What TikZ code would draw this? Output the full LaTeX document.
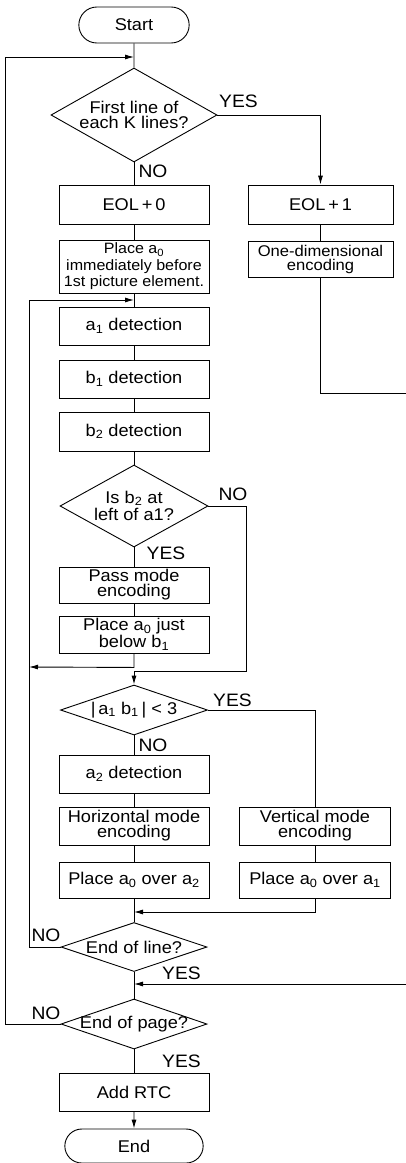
\documentclass[tikz,border=0pt]{standalone}
\usepackage{fontspec}
\setmainfont{Liberation Sans}[FakeStretch=1.07]
\usetikzlibrary{shapes.geometric,shapes.misc,arrows.meta}
\begin{document}
\begin{tikzpicture}[x=1pt,y=1pt,line width=0.9pt,>={Latex[length=9pt,width=5pt]},
  box/.style={draw, align=center, minimum width=150pt, minimum height=38pt, inner sep=1pt, font=\fontsize{17}{15}\selectfont},
  term/.style={draw, rounded rectangle, minimum height=36pt, font=\fontsize{17}{15}\selectfont},
  decision/.style={draw, diamond, align=center, inner sep=-3pt, font=\fontsize{17}{15}\selectfont},
  lbl/.style={inner sep=0pt, font=\fontsize{18}{18}\selectfont}]
\useasboundingbox (0,0) rectangle (406,-1163);
\node[term, minimum width=117pt] (start) at (134,-25) {Start};
\node[decision, minimum width=166pt, minimum height=94pt, aspect=1.77] (first) at (134,-115) {First line of\\each K lines?};
\node[box, minimum height=39pt] (eol0) at (134,-204.5) {EOL\,+\,0};
\node[box, minimum width=145pt, minimum height=39pt] (eol1) at (320.5,-204.5) {EOL\,+\,1};
\node[box, minimum height=53pt, font=\fontsize{15}{16.5}\selectfont] (place0) at (134,-266.5) {Place a\textsubscript{0}\\immediately before\\1st picture element.};
\node[box, minimum width=145pt, minimum height=36pt, font=\fontsize{15.5}{14}\selectfont] (onedim) at (320.5,-259) {One-dimensional\\encoding};
\node[box] (a1det) at (134,-326) {a\textsubscript{1} detection};
\node[box] (b1det) at (134,-379) {b\textsubscript{1} detection};
\node[box, minimum height=39pt] (b2det) at (134,-431.5) {b\textsubscript{2} detection};
\node[decision, minimum width=148pt, minimum height=82pt, aspect=1.8, font=\fontsize{17}{17.5}\selectfont] (left1) at (134,-506) {Is b\textsubscript{2} at\\left of a1?};
\node[box, minimum height=36pt] (pass) at (134,-585) {Pass mode\\encoding};
\node[box, minimum height=37pt] (placeb1) at (134,-634.5) {Place a\textsubscript{0} just\\below b\textsubscript{1}};
\node[decision, minimum width=147pt, minimum height=50pt, aspect=2.94] (dist) at (134,-710) {|\,a\textsubscript{1} b\textsubscript{1}\,| < 3};
\node[box] (a2det) at (134,-774) {a\textsubscript{2} detection};
\node[box] (horiz) at (134,-826) {Horizontal mode\\encoding};
\node[box, minimum height=36pt] (placea2) at (134,-880) {Place a\textsubscript{0} over a\textsubscript{2}};
\node[box, minimum width=151pt] (vert) at (315,-826) {Vertical mode\\encoding};
\node[box, minimum width=151pt, minimum height=36pt] (placea1) at (315,-880) {Place a\textsubscript{0} over a\textsubscript{1}};
\node[decision, minimum width=146pt, minimum height=49pt, aspect=2.98] (eoline) at (134,-947) {End of line?};
\node[decision, minimum width=146pt, minimum height=50pt, aspect=2.92] (eopage) at (134,-1024) {End of page?};
\node[box] (rtc) at (134,-1092) {Add RTC};
\node[term, minimum width=145pt, minimum height=34pt] (end) at (134,-1146) {End};
\node[lbl] (yes1) at (238.5,-101.5) {YES};
\node[lbl] (no1) at (153,-171.5) {NO};
\node[lbl] (no2) at (233,-494.5) {NO};
\node[lbl] (yes2) at (166,-553) {YES};
\node[lbl] (yes3) at (232.5,-700) {YES};
\node[lbl] (no3) at (153,-745) {NO};
\node[lbl] (no4) at (46,-935) {NO};
\node[lbl] (yes4) at (181.5,-973.5) {YES};
\node[lbl] (no5) at (46,-1013) {NO};
\node[lbl] (yes5) at (181.5,-1061.5) {YES};
\coordinate (top) at (134,-57);
\coordinate (outerL) at (5,-57);
\coordinate (loopin) at (134,-300);
\coordinate (loopL) at (29,-300);
\coordinate (loopB) at (29,-667);
\coordinate (outR) at (406,-393);
\coordinate (backR) at (406,-984);
\coordinate (joinA) at (134,-912);
\coordinate (joinB) at (134,-984);
\draw (start) -- (first);
\draw (first) -- (eol0);
\draw[->] (first.east) -| (eol1);
\draw (eol0) -- (place0);
\draw (eol1) -- (onedim);
\draw (onedim) |- (outR);
\draw (place0) -- (a1det);
\draw (a1det) -- (b1det);
\draw (b1det) -- (b2det);
\draw (b2det) -- (left1);
\draw (left1) -- (pass);
\draw (pass) -- (placeb1);
\draw[->] (placeb1.south) -- ++(0,-14) -- (loopB);
\draw[->] (left1.east) -- ++(38,0) -- ++(0,-165) -| (dist.north);
\draw (dist.east) -| (vert);
\draw (dist) -- (a2det);
\draw (a2det) -- (horiz);
\draw (horiz) -- (placea2);
\draw (vert) -- (placea1);
\draw (placea2) -- (eoline);
\draw[->] (placea1) |- (joinA);
\draw[->] (eoline.west) -| (loopL) -- (loopin);
\draw (eoline) -- (eopage);
\draw[->] (backR) -- (joinB);
\draw[->] (eopage.west) -| (outerL) -- (top);
\draw (eopage) -- (rtc);
\draw[->] (rtc) -- (end);
\end{tikzpicture}
\end{document}
